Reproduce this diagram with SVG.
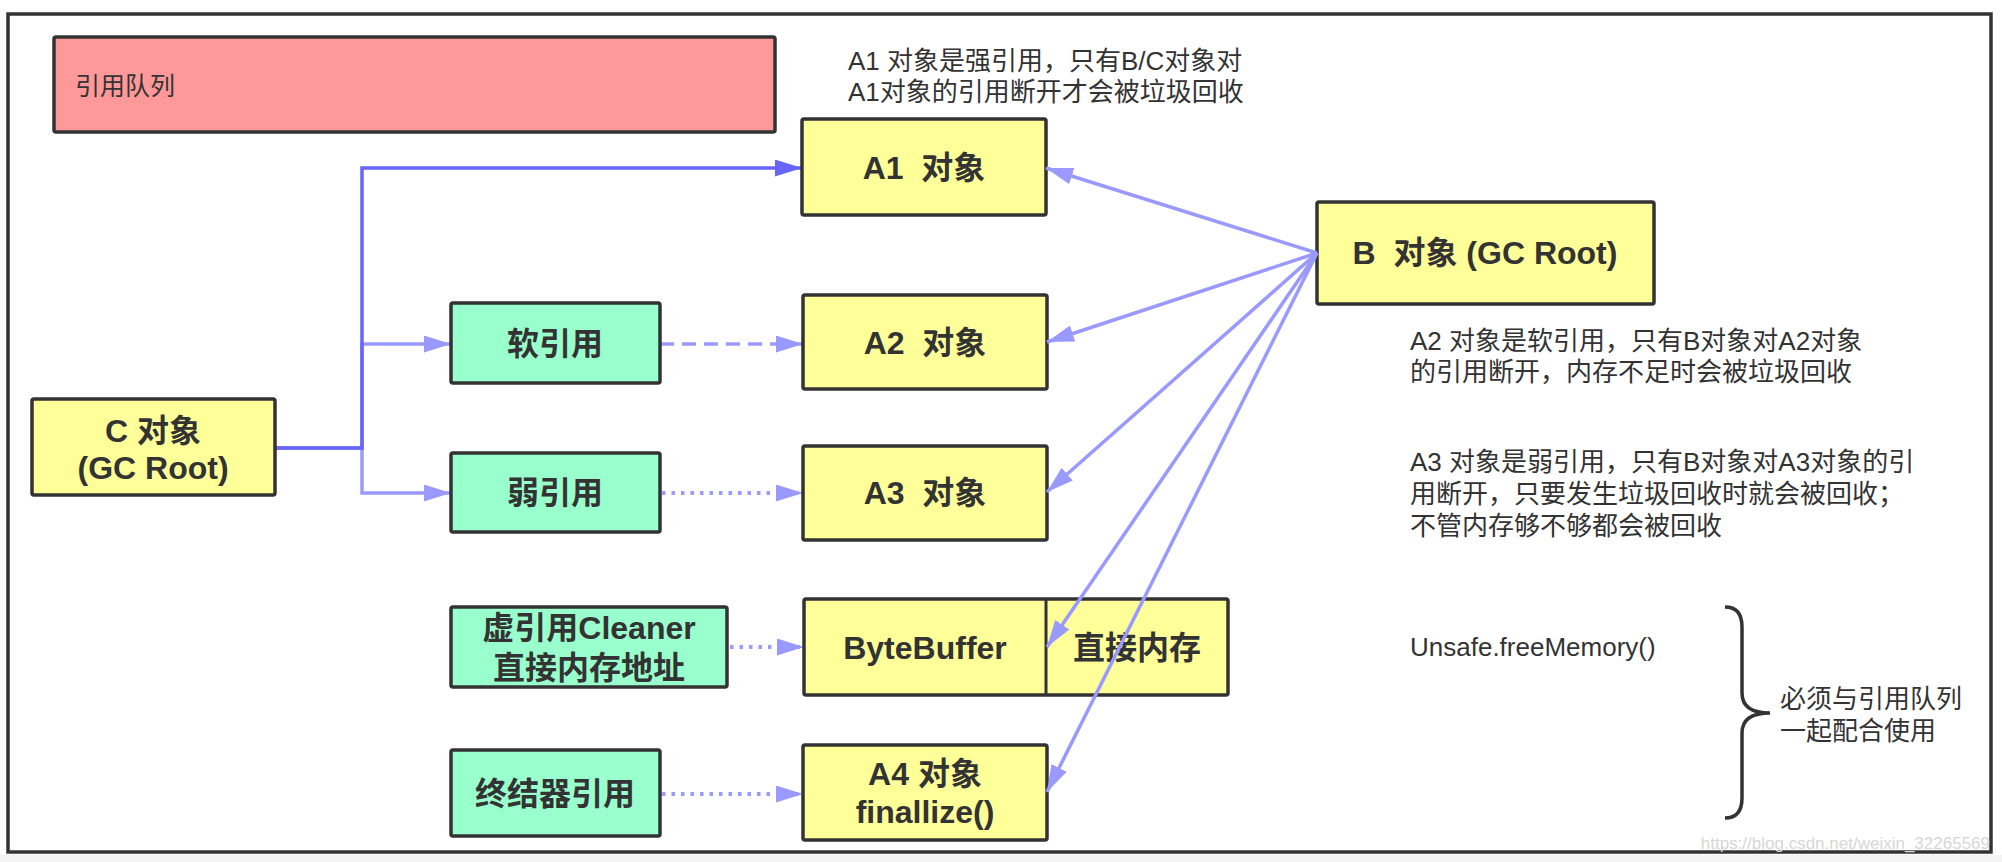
<svg xmlns="http://www.w3.org/2000/svg" width="2002" height="862" viewBox="0 0 2002 862">
<defs>
<style>
.frame{fill:#ffffff;stroke:#333333;stroke-width:3.5}
.box{stroke:#333333;stroke-width:3.5}
.yel{fill:#FFFF99}
.grn{fill:#99FFCC}
.red{fill:#FF9999}
.nt{font-family:"Liberation Sans","Noto Sans CJK SC",sans-serif;font-size:32px;font-weight:bold;fill:#333333;text-anchor:middle;white-space:pre}
.an{font-family:"Liberation Sans","Noto Sans CJK SC",sans-serif;font-size:26px;fill:#333333}
.dark{fill:none;stroke:#6666FF;stroke-width:3.5}
.light{fill:none;stroke:#9999FF;stroke-width:3.5}
.dash{stroke-dasharray:14 8}
.dot{stroke-dasharray:3.5 6;stroke-width:4}
</style>
<marker id="ad" markerUnits="userSpaceOnUse" markerWidth="28" markerHeight="18" refX="27" refY="8.5" orient="auto">
<path d="M0,0 L27,8.5 L0,17 z" fill="#6666FF"/>
</marker>
<marker id="al" markerUnits="userSpaceOnUse" markerWidth="28" markerHeight="18" refX="27" refY="8.5" orient="auto">
<path d="M0,0 L27,8.5 L0,17 z" fill="#9999FF"/>
</marker>
</defs>
<rect x="0" y="0" width="2002" height="862" fill="#ffffff"/>
<rect x="0" y="855" width="2002" height="7" fill="#f3f3f3"/>
<rect class="frame" x="8" y="14" width="1983" height="838"/>

<g id="queue">
<rect class="box red" x="54" y="37" width="721" height="95" rx="2"/>
<text class="an" x="75" y="95" style="font-size:25px">引用队列</text>
</g>

<g id="connectors">
<path class="light" d="M275,448 H362 V344 H451" marker-end="url(#al)"/>
<path class="light" d="M362,448 V493 H451" marker-end="url(#al)"/>
<path class="dark" d="M275,448 H362 V168 H802" marker-end="url(#ad)"/>
<path class="light dash" d="M660,344 H803" marker-end="url(#al)"/>
<path class="light dot" d="M662,493 H803" marker-end="url(#al)"/>
<path class="light dot" d="M730,647 H804" marker-end="url(#al)"/>
<path class="light dot" d="M662,794 H803" marker-end="url(#al)"/>
</g>

<g id="A1">
<rect class="box yel" x="802" y="119" width="244" height="96" rx="2"/>
<text class="nt" x="924" y="179" xml:space="preserve">A1  对象</text>
</g>
<g id="A2">
<rect class="box yel" x="803" y="295" width="244" height="94" rx="2"/>
<text class="nt" x="925" y="354" xml:space="preserve">A2  对象</text>
</g>
<g id="A3">
<rect class="box yel" x="803" y="446" width="244" height="94" rx="2"/>
<text class="nt" x="925" y="504" xml:space="preserve">A3  对象</text>
</g>
<g id="ByteBuffer">
<rect class="box yel" x="804" y="599" width="424" height="96" rx="2"/>
<line x1="1046" y1="599" x2="1046" y2="695" stroke="#333333" stroke-width="3"/>
<text class="nt" x="925" y="659">ByteBuffer</text>
<text class="nt" x="1137" y="659">直接内存</text>
</g>
<g id="A4">
<rect class="box yel" x="803" y="745" width="244" height="95" rx="2"/>
<text class="nt" x="925" y="785">A4 对象</text>
<text class="nt" x="925" y="823">finallize()</text>
</g>
<g id="B">
<rect class="box yel" x="1317" y="202" width="337" height="102" rx="2"/>
<text class="nt" x="1485" y="264" xml:space="preserve">B  对象 (GC Root)</text>
</g>
<g id="C">
<rect class="box yel" x="32" y="399" width="243" height="96" rx="2"/>
<text class="nt" x="153" y="442">C 对象</text>
<text class="nt" x="153" y="479">(GC Root)</text>
</g>
<g id="soft">
<rect class="box grn" x="451" y="303" width="209" height="80" rx="2"/>
<text class="nt" x="555" y="355">软引用</text>
</g>
<g id="weak">
<rect class="box grn" x="451" y="453" width="209" height="79" rx="2"/>
<text class="nt" x="555" y="504">弱引用</text>
</g>
<g id="phantom">
<rect class="box grn" x="451" y="607" width="276" height="80" rx="2"/>
<text class="nt" x="589" y="639">虚引用Cleaner</text>
<text class="nt" x="589" y="679">直接内存地址</text>
</g>
<g id="final">
<rect class="box grn" x="451" y="750" width="209" height="86" rx="2"/>
<text class="nt" x="555" y="805">终结器引用</text>
</g>

<g id="connectors-b">
<path class="light" d="M1317,253 L1046,168" marker-end="url(#al)"/>
<path class="light" d="M1317,253 L1047,342" marker-end="url(#al)"/>
<path class="light" d="M1317,253 L1047,492" marker-end="url(#al)"/>
<path class="light" d="M1317,253 L1047,647" marker-end="url(#al)"/>
<path class="light" d="M1317,253 L1047,792" marker-end="url(#al)"/>
</g>

<g id="notes">
<text class="an" x="848" y="70">A1 对象是强引用，只有B/C对象对</text>
<text class="an" x="848" y="101">A1对象的引用断开才会被垃圾回收</text>
<text class="an" x="1410" y="350">A2 对象是软引用，只有B对象对A2对象</text>
<text class="an" x="1410" y="381">的引用断开，内存不足时会被垃圾回收</text>
<text class="an" x="1410" y="471">A3 对象是弱引用，只有B对象对A3对象的引</text>
<text class="an" x="1410" y="503">用断开，只要发生垃圾回收时就会被回收；</text>
<text class="an" x="1410" y="535">不管内存够不够都会被回收</text>
<text class="an" x="1410" y="656">Unsafe.freeMemory()</text>
</g>
<g id="brace">
<path d="M1725,607 Q1742,607 1742,627 L1742,693 Q1742,713 1770,713 Q1742,713 1742,733 L1742,798 Q1742,818 1725,818" fill="none" stroke="#333333" stroke-width="3.5"/>
<text class="an" x="1780" y="708">必须与引用队列</text>
<text class="an" x="1780" y="740">一起配合使用</text>
</g>
<text x="1990" y="849" font-family="Liberation Sans, sans-serif" font-size="17" fill="#d6d6d6" text-anchor="end">https://blog.csdn.net/weixin_32265569</text>
</svg>
